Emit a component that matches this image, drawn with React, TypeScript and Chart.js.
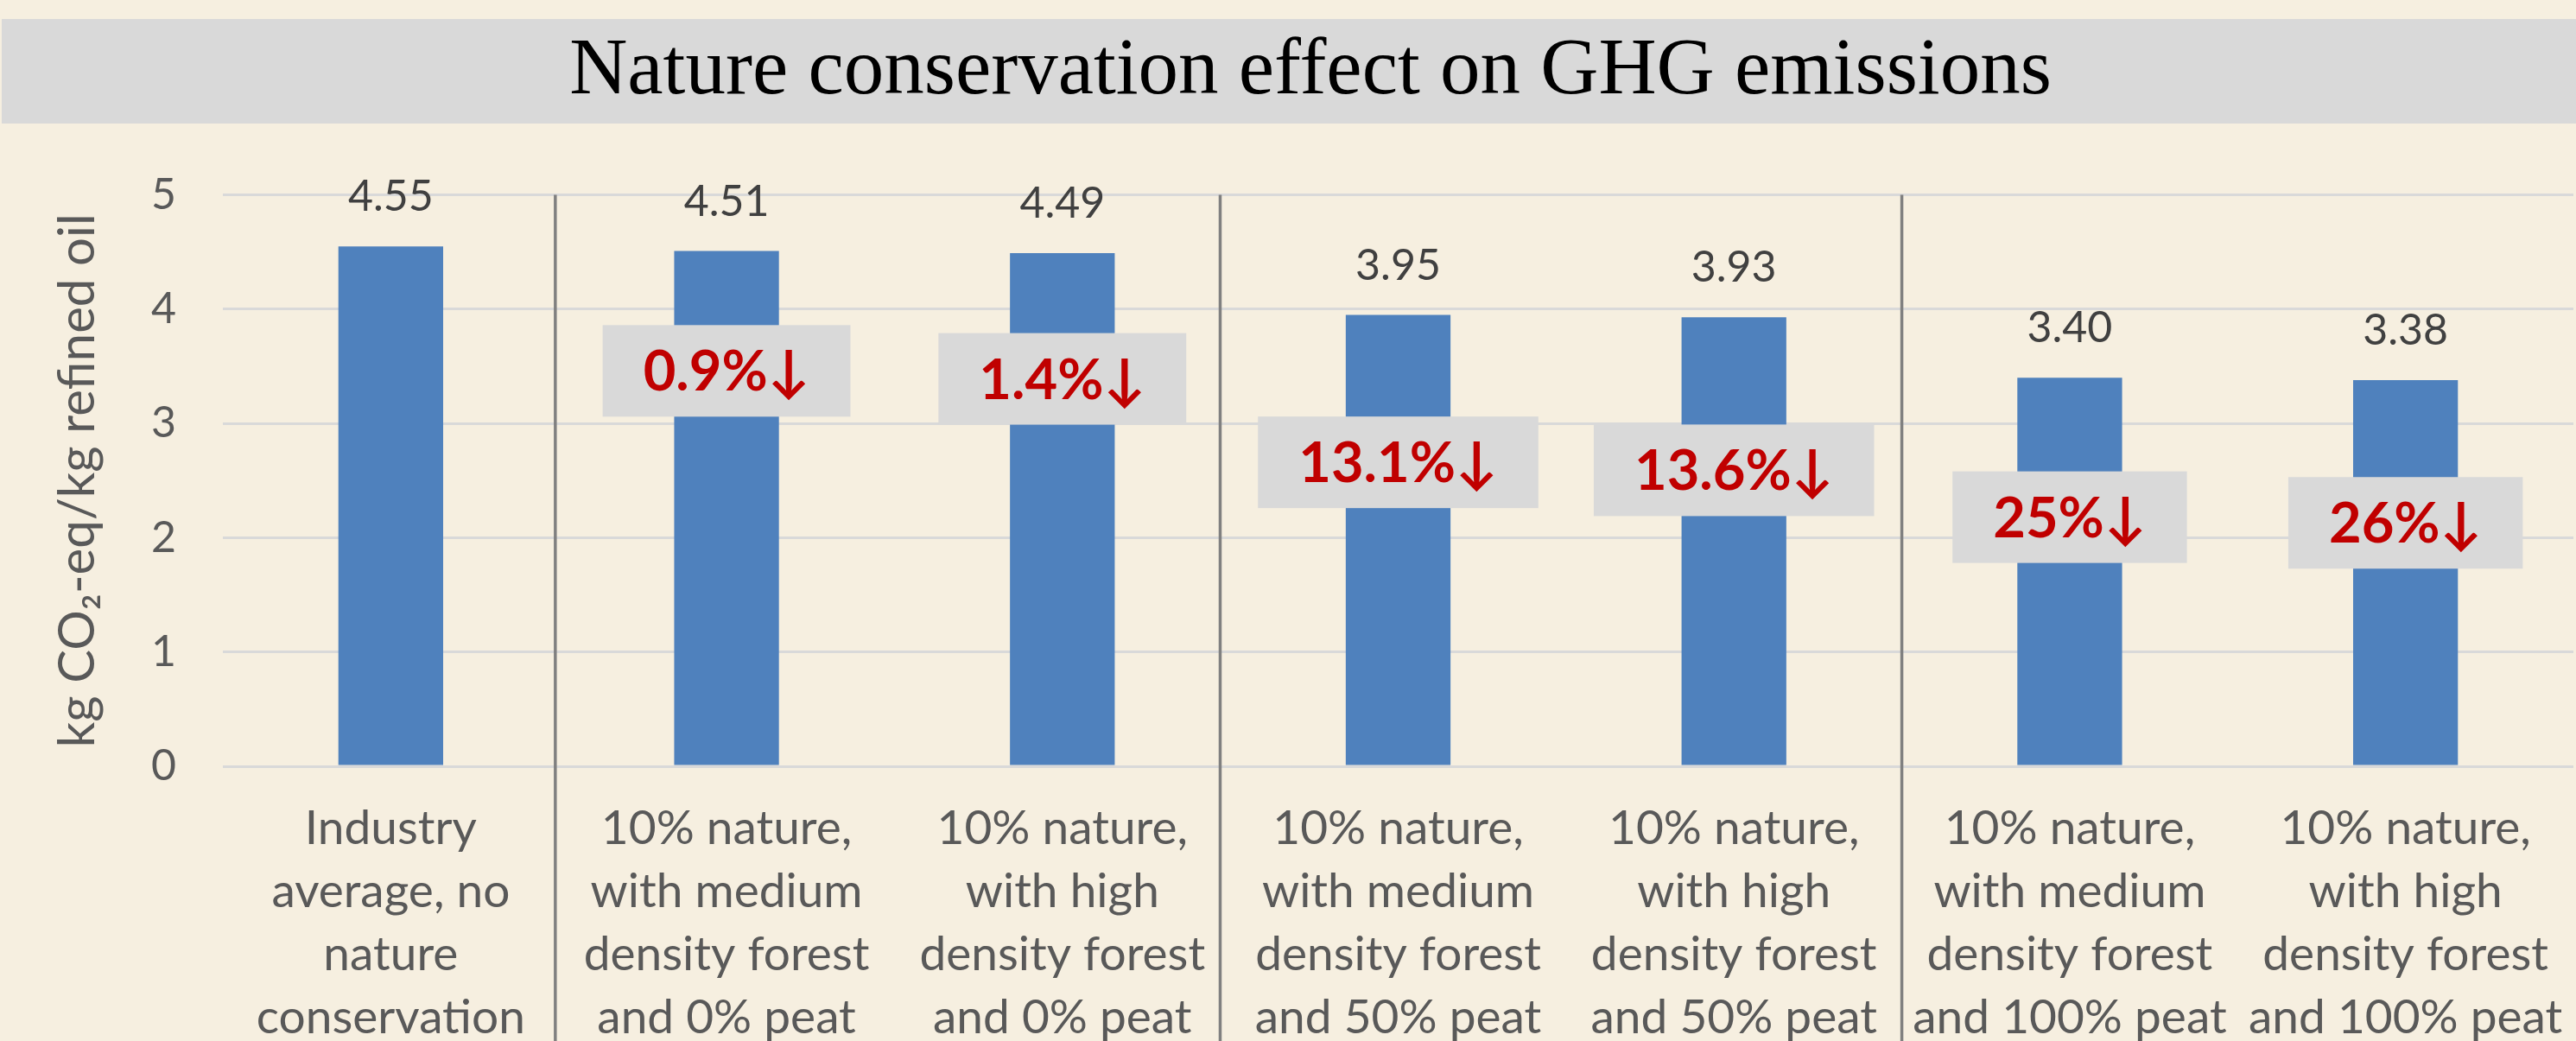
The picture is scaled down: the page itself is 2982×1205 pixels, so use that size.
import React, { useEffect, useRef } from 'react';
import { Chart, registerables } from 'chart.js';

Chart.register(...registerables);

const chartTitle = 'Nature conservation effect on GHG emissions';
const yAxisTitle = 'kg CO₂-eq/kg refined oil';

const categories: string[][] = [
  ['Industry', 'average, no', 'nature', 'conservation'],
  ['10% nature,', 'with medium', 'density forest', 'and 0% peat'],
  ['10% nature,', 'with high', 'density forest', 'and 0% peat'],
  ['10% nature,', 'with medium', 'density forest', 'and 50% peat'],
  ['10% nature,', 'with high', 'density forest', 'and 50% peat'],
  ['10% nature,', 'with medium', 'density forest', 'and 100% peat'],
  ['10% nature,', 'with high', 'density forest', 'and 100% peat'],
];
const emissions = [4.55, 4.51, 4.49, 3.95, 3.93, 3.4, 3.38];
const reductionLabels = ['', '0.9%↓', '1.4%↓', '13.1%↓', '13.6%↓', '25%↓', '26%↓'];
const yTickValues = [0, 1, 2, 3, 4, 5];

// layout constants (not data)
const groupSeparatorsAt = [0.49, 2.47, 4.5];
const reductionBoxAnchorY = [null, 3.46, 3.39, 2.66, 2.59, 2.18, 2.13];

const W = 2982;
const H = 1215;
const FONT = 'Lato, "Open Sans", "DejaVu Sans", sans-serif';

const decorPlugin = {
  id: 'decor',
  beforeDraw(chart: any) {
    const ctx = chart.ctx;
    ctx.save();
    ctx.fillStyle = '#f6efe0';
    ctx.fillRect(0, 0, chart.width, chart.height);
    ctx.fillStyle = '#d9d9d9';
    ctx.fillRect(2, 22, chart.width - 2, 121);
    ctx.restore();
  },
  afterDatasetsDraw(chart: any) {
    const ctx = chart.ctx;
    const xs = chart.scales.x;
    const ys = chart.scales.y;
    const area = chart.chartArea;
    ctx.save();
    // group separators
    ctx.strokeStyle = '#808080';
    ctx.lineWidth = 3.5;
    groupSeparatorsAt.forEach((v) => {
      const px = xs.getPixelForValue(v);
      ctx.beginPath();
      ctx.moveTo(px, area.top);
      ctx.lineTo(px, chart.height);
      ctx.stroke();
    });
    // value labels
    const meta = chart.getDatasetMeta(0);
    ctx.fillStyle = '#404040';
    ctx.font = `50px ${FONT}`;
    ctx.textAlign = 'center';
    ctx.textBaseline = 'middle';
    meta.data.forEach((bar: any, i: number) => {
      ctx.fillText(emissions[i].toFixed(2), bar.x, bar.y - 57);
    });
    // reduction boxes
    ctx.font = `bold 65px ${FONT}`;
    meta.data.forEach((bar: any, i: number) => {
      const label = reductionLabels[i];
      const anchor = reductionBoxAnchorY[i];
      if (!label || anchor == null) return;
      const cy = ys.getPixelForValue(anchor);
      const tw = ctx.measureText(label).width;
      const bw = tw + 94;
      const bh = 106;
      ctx.fillStyle = '#d9d9d9';
      ctx.fillRect(bar.x - bw / 2, cy - bh / 2, bw, bh);
      ctx.fillStyle = '#c00000';
      ctx.fillText(label, bar.x, cy + 2);
    });
    ctx.restore();
  },
};

export default function App() {
  const ref = useRef<HTMLCanvasElement | null>(null);
  useEffect(() => {
    if (!ref.current) return;
    const chart = new Chart(ref.current, {
      type: 'bar',
      data: {
        labels: categories,
        datasets: [
          {
            data: emissions,
            backgroundColor: '#4f81bd',
            barPercentage: 0.312,
            categoryPercentage: 1,
          },
        ],
      },
      options: {
        responsive: false,
        animation: false,
        devicePixelRatio: 1,
        layout: { padding: { top: 28, left: 55, right: 3, bottom: 3 } },
        plugins: {
          legend: { display: false },
          tooltip: { enabled: false },
          title: {
            display: true,
            text: chartTitle,
            color: '#000000',
            font: { family: '"Liberation Serif", "Times New Roman", serif', size: 93, weight: 'normal', lineHeight: 1.2 },
            padding: { top: 0, bottom: 86 },
          },
        },
        scales: {
          x: {
            grid: { display: false, drawTicks: false },
            border: { display: false },
            afterFit: (scale: any) => {
              scale.height = 325;
              scale.paddingLeft = 0;
              scale.paddingRight = 0;
            },
            ticks: {
              color: '#595959',
              font: { family: FONT, size: 55, lineHeight: 73 / 55 },
              padding: 36,
              maxRotation: 0,
              autoSkip: false,
            },
          },
          y: {
            min: 0,
            max: 5,
            afterBuildTicks: (scale: any) => {
              scale.ticks = yTickValues.map((v) => ({ value: v }));
            },
            afterFit: (scale: any) => {
              scale.width = 203;
            },
            grid: { color: '#d9d9d9', lineWidth: 3, drawTicks: false },
            border: { display: false },
            ticks: {
              color: '#595959',
              font: { family: FONT, size: 50 },
              padding: 54,
            },
            title: {
              display: true,
              text: yAxisTitle,
              color: '#595959',
              font: { family: FONT, size: 58, lineHeight: 1.2 },
              padding: { top: 0, bottom: 53 },
            },
          },
        },
      },
      plugins: [decorPlugin],
    });
    return () => chart.destroy();
  }, []);
  return (
    <div
      style={{
        position: 'fixed',
        left: 0,
        top: 0,
        width: W,
        height: 1205,
        overflow: 'hidden',
        background: '#f6efe0',
      }}
    >
      <canvas ref={ref} width={W} height={H} style={{ width: W, height: H, display: 'block' }} />
    </div>
  );
}
